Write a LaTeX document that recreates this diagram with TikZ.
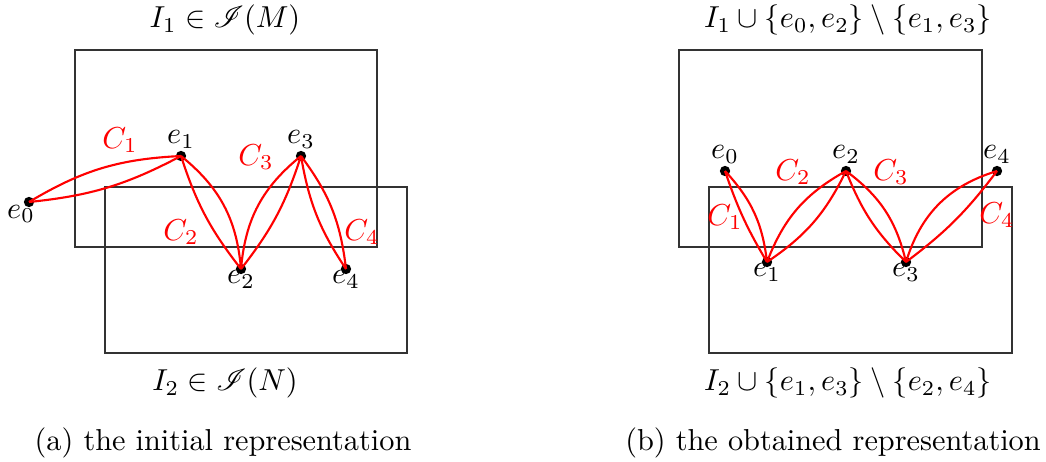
\documentclass[tikz,border=0pt]{standalone}
\usepackage{amsmath,amssymb}
\usepackage{mathrsfs}
\usetikzlibrary{positioning}
\tikzset{
  setbox/.style={draw=black!80, line width=0.4pt},
  elem/.style={circle, fill=black, inner sep=0pt, minimum size=3.4pt},
  elemlab/.style={inner sep=0.5pt},
  circuit/.style={red, line width=0.7pt},
  circlab/.style={text=red, inner sep=0pt},
}

\begin{document}
\begin{tikzpicture}[x=0.33pt, y=-0.33pt]
    \useasboundingbox (0,0) rectangle (1046,462);
    % (a) the initial representation
    \draw[setbox] (75,50) rectangle (377,247);
    \draw[setbox] (105,187) rectangle (407,353);
    \node (ta) at (225,20) {$I_1 \in \mathscr{I}(M)$};
    \node (ba) at (225,383) {$I_2 \in \mathscr{I}(N)$};
    \node (capa) at (223,443) {(a) the initial representation};

    \node[elem] (a0) at (29,202) {};
    \node[elem] (a1) at (181,156) {};
    \node[elem] (a2) at (241,269) {};
    \node[elem] (a3) at (301,156) {};
    \node[elem] (a4) at (346,269) {};
    \node[elemlab, below left=-1pt and -4pt of a0] (la0) {$e_0$};
    \node[elemlab, above=0pt of a1] (la1) {$e_1$};
    \node[elemlab, below=-2pt of a2] (la2) {$e_2$};
    \node[elemlab, above=0pt of a3] (la3) {$e_3$};
    \node[elemlab, below=-2pt of a4] (la4) {$e_4$};

    \draw[circuit] (a0.center) to[bend left=14] (a1.center);
    \draw[circuit] (a0.center) to[bend right=11] (a1.center);
    \draw[circuit] (a1.center) to[bend left=23] (a2.center);
    \draw[circuit] (a1.center) to[bend right=10] (a2.center);
    \draw[circuit] (a2.center) to[bend left=23] (a3.center);
    \draw[circuit] (a2.center) to[bend right=10] (a3.center);
    \draw[circuit] (a3.center) to[bend left=15] (a4.center);
    \draw[circuit] (a3.center) to[bend right=12] (a4.center);
    \node[circlab] (ca1) at (120,140) {$C_1$};
    \node[circlab] (ca2) at (181,232) {$C_2$};
    \node[circlab] (ca3) at (256,157) {$C_3$};
    \node[circlab] (ca4) at (362,232) {$C_4$};

    % (b) the obtained representation
    \draw[setbox] (679,50) rectangle (982,247);
    \draw[setbox] (709,187) rectangle (1012,353);
    \node (tb) at (848,20) {$I_1 \cup \{e_0, e_2\} \setminus \{e_1, e_3\}$};
    \node (bb) at (848,383) {$I_2 \cup \{e_1, e_3\} \setminus \{e_2, e_4\}$};
    \node (capb) at (833,443) {(b) the obtained representation};

    \node[elem] (b0) at (725,171) {};
    \node[elem] (b1) at (767,262) {};
    \node[elem] (b2) at (846,171) {};
    \node[elem] (b3) at (906,262) {};
    \node[elem] (b4) at (997,171) {};
    \node[elemlab, above=0pt of b0] (lb0) {$e_0$};
    \node[elemlab, below=-2pt of b1] (lb1) {$e_1$};
    \node[elemlab, above=0pt of b2] (lb2) {$e_2$};
    \node[elemlab, below=-2pt of b3] (lb3) {$e_3$};
    \node[elemlab, above=0pt of b4] (lb4) {$e_4$};

    \draw[circuit] (b0.center) to[bend left=18] (b1.center);
    \draw[circuit] (b0.center) to[bend right=6] (b1.center);
    \draw[circuit] (b1.center) to[bend left=20] (b2.center);
    \draw[circuit] (b1.center) to[bend right=15] (b2.center);
    \draw[circuit] (b2.center) to[bend left=20] (b3.center);
    \draw[circuit] (b2.center) to[bend right=12] (b3.center);
    \draw[circuit] (b3.center) to[bend left=28] (b4.center);
    \draw[circuit] (b3.center) to[bend right=8] (b4.center);
    \node[circlab] (cb1) at (725,217) {$C_1$};
    \node[circlab] (cb2) at (793,172) {$C_2$};
    \node[circlab] (cb3) at (891,172) {$C_3$};
    \node[circlab] (cb4) at (997,215) {$C_4$};
\end{tikzpicture}
\end{document}
